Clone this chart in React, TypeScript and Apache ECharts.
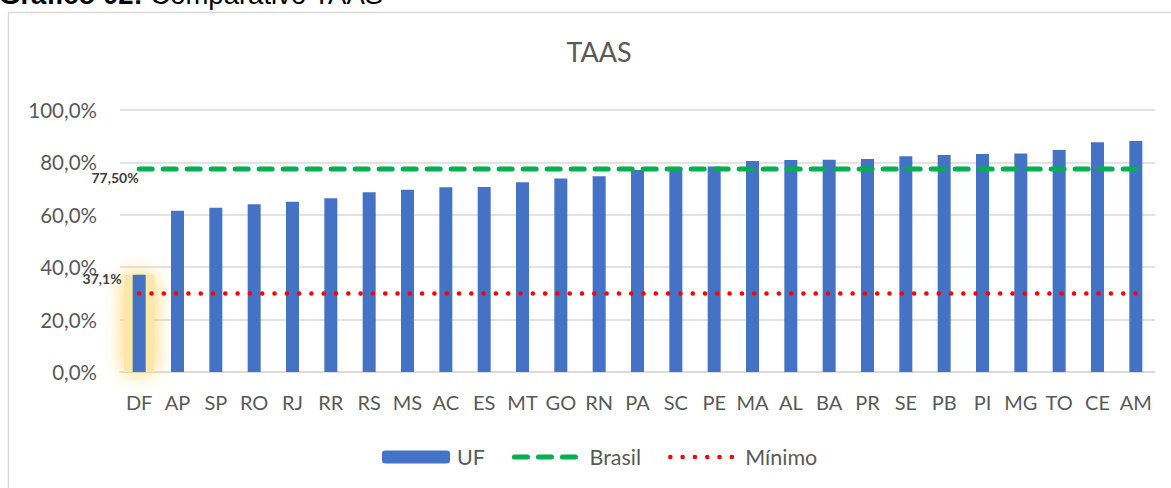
import React, { useEffect, useRef } from 'react';
import * as echarts from 'echarts';

const categories = ['DF', 'AP', 'SP', 'RO', 'RJ', 'RR', 'RS', 'MS', 'AC', 'ES', 'MT', 'GO', 'RN', 'PA', 'SC', 'PE', 'MA', 'AL', 'BA', 'PR', 'SE', 'PB', 'PI', 'MG', 'TO', 'CE', 'AM'];
const ufValues = [37.1, 61.5, 62.7, 64.0, 65.0, 66.3, 68.6, 69.6, 70.5, 70.6, 72.4, 73.9, 74.7, 77.1, 77.6, 78.4, 80.5, 80.9, 81.0, 81.3, 82.3, 82.8, 83.2, 83.4, 84.7, 87.7, 88.2];
const brasilValue = 77.5;
const minimoValue = 30;
const highlightIndex = 0;
const yMin = 0;
const yMax = 100;
const yStep = 20;

const FONT = 'Lato, sans-serif';
const fmt = (v: number, d: number) => v.toFixed(d).replace('.', ',') + '%';

const GREEN_LINE = { color: '#00B050', width: 5, type: [13, 11], cap: 'round' };
const RED_LINE = { color: '#FF0000', width: 4.5, type: [0.1, 12.2], cap: 'round' };

export default function App() {
  const ref = useRef<HTMLDivElement>(null);
  useEffect(() => {
    if (!ref.current) return;
    const chart = echarts.init(ref.current, null, { renderer: 'svg' });
    const ufData = ufValues.map((v, i) =>
      i === highlightIndex
        ? {
            value: v,
            label: {
              show: true,
              position: [-11, 4],
              align: 'right',
              verticalAlign: 'middle',
              formatter: (p: any) => fmt(p.value, 1),
              fontSize: 14,
              fontWeight: 'bold',
              color: '#404040',
              fontFamily: FONT,
            },
          }
        : v
    );
    const glowData = ufValues.map((v, i) => (i === highlightIndex ? v : '-'));
    chart.setOption({
      animation: false,
      textStyle: { fontFamily: FONT },
      title: {
        text: 'TAAS',
        left: 594,
        textAlign: 'center',
        top: 33,
        textStyle: { fontSize: 27, fontWeight: 'normal', color: '#595959', fontFamily: FONT },
      },
      graphic: [
        {
          type: 'rect',
          shape: { x: 8.5, y: 12.5, width: 1200, height: 500 },
          style: { fill: 'none', stroke: '#D9D9D9', lineWidth: 1.5 },
          silent: true,
          z: -10,
        },
        {
          type: 'text',
          x: -1,
          y: -6,
          style: {
            text: '{b|Gráfico 02:} Comparativo TAAS',
            rich: { b: { fontWeight: 'bold', fontSize: 27.5, fontFamily: 'Liberation Sans, Arial', fill: '#000' } },
            fontSize: 27.5,
            fontFamily: 'Liberation Sans, Arial',
            fill: '#000',
            verticalAlign: 'middle',
          },
        },
      ],
      legend: {
        data: [
          { name: 'UF' },
          { name: 'Brasil', itemStyle: { color: 'rgba(0,0,0,0)', borderWidth: 0 }, lineStyle: GREEN_LINE },
          { name: 'Mínimo', itemStyle: { color: 'rgba(0,0,0,0)', borderWidth: 0 }, lineStyle: RED_LINE },
        ],
        left: 382,
        top: 446,
        padding: 0,
        itemWidth: 68,
        itemHeight: 13,
        itemGap: 27,
        textStyle: { fontSize: 21.5, color: '#595959', fontFamily: FONT, padding: [0, 0, 0, 2] },
      },
      grid: { left: 120, right: 16, top: 110, bottom: 116 },
      xAxis: [
        {
          type: 'category',
          data: categories,
          axisTick: { show: false },
          axisLine: { lineStyle: { color: '#D9D9D9', width: 1.5 } },
          axisLabel: { interval: 0, fontSize: 20, color: '#595959', margin: 20, fontFamily: FONT },
        },
        { type: 'category', data: categories, show: false },
      ],
      yAxis: {
        type: 'value',
        min: yMin,
        max: yMax,
        interval: yStep,
        axisLine: { show: false },
        axisTick: { show: false },
        axisLabel: { fontSize: 20.5, color: '#595959', margin: 23, fontFamily: FONT, formatter: (v: number) => fmt(v, 1) },
        splitLine: { lineStyle: { color: '#D9D9D9', width: 1.5 } },
      },
      series: [
        {
          name: 'glow',
          type: 'bar',
          xAxisIndex: 1,
          data: glowData,
          barWidth: 30,
          z: 1,
          silent: true,
          itemStyle: { color: 'rgba(253,231,168,1)', shadowBlur: 20, shadowColor: 'rgba(255,210,90,1)' },
        },
        {
          name: 'UF',
          type: 'bar',
          data: ufData,
          barWidth: 13,
          z: 2,
          itemStyle: { color: '#4472C4' },
        },
        {
          name: 'Brasil',
          type: 'line',
          data: categories.map(() => brasilValue),
          symbol: 'none',
          color: '#00B050',
          z: 3,
          lineStyle: GREEN_LINE,
          markPoint: {
            symbol: 'circle',
            symbolSize: 1,
            itemStyle: { color: 'transparent' },
            data: [{ coord: [0, brasilValue], value: brasilValue }],
            label: {
              show: true,
              position: [0, 9],
              align: 'right',
              verticalAlign: 'middle',
              formatter: (p: any) => fmt(p.value, 2),
              fontSize: 14,
              fontWeight: 'bold',
              color: '#404040',
              fontFamily: FONT,
            },
          },
        },
        {
          name: 'Mínimo',
          type: 'line',
          data: categories.map(() => minimoValue),
          symbol: 'none',
          color: '#FF0000',
          z: 3,
          lineStyle: RED_LINE,
        },
      ],
    });
    return () => chart.dispose();
  }, []);
  return <div ref={ref} style={{ position: 'fixed', left: 0, top: 0, width: 1171, height: 488, background: '#fff' }} />;
}
